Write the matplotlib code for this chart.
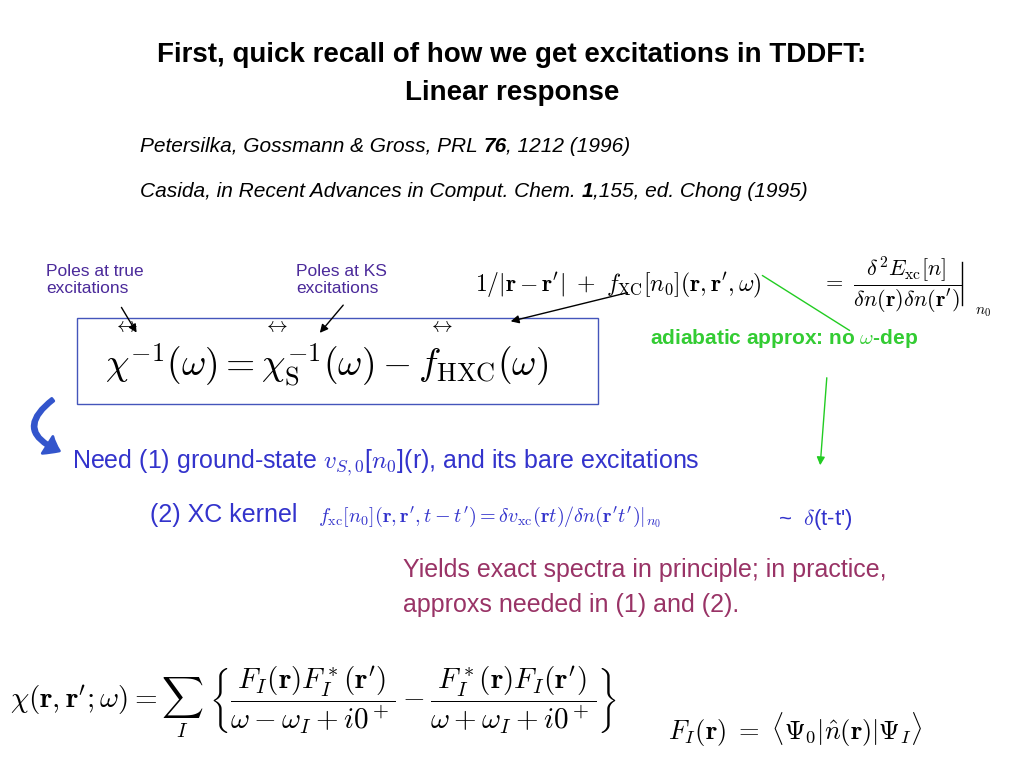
import matplotlib.pyplot as plt
from matplotlib.patches import Rectangle, FancyArrowPatch

plt.rcParams['mathtext.fontset'] = 'cm'
plt.rcParams['font.family'] = ['Liberation Sans', 'DejaVu Sans']

title_lines = ["First, quick recall of how we get excitations in TDDFT:", "Linear response"]
refs = [["Petersilka, Gossmann & Gross, PRL ", "76", ", 1212 (1996)"],
        ["Casida, in Recent Advances in Comput. Chem. ", "1", ",155, ed. Chong (1995)"]]
pole_labels = ["Poles at true\nexcitations", "Poles at KS\nexcitations"]
adiabatic = r"adiabatic approx: no $\omega$-dep"
need_line = r"Need (1) ground-state $v_{S,0}$[$n_0$](r), and its bare excitations"
kernel_label = "(2) XC kernel"
kernel_eq = r"$f_{\rm xc}[n_0](\mathbf{r},\mathbf{r}',t-t') = \delta v_{\rm xc}(\mathbf{r}t)/\delta n(\mathbf{r}'t')|_{n_0}$"
delta_note = r"~  $\delta$(t-t')"
yields = ["Yields exact spectra in principle; in practice,", "approxs needed in (1) and (2)."]

fig = plt.figure(figsize=(10.24, 7.68), dpi=100)
W, H = 1024, 768

def T(x, y, s, **kw):
    return fig.text(x / W, 1 - y / H, s, **kw)

def arrow(p0, p1, color='black', lw=1, style='-|>'):
    a = FancyArrowPatch((p0[0] / W, 1 - p0[1] / H), (p1[0] / W, 1 - p1[1] / H),
                        transform=fig.transFigure, arrowstyle=style,
                        mutation_scale=12, color=color, lw=lw)
    fig.patches.append(a)

for i, line in enumerate(title_lines):
    T(512, 55 + 38 * i, line, ha='center', va='center', fontsize=20, fontweight='bold')
for i, parts in enumerate(refs):
    prev = T(140, 152 + 45 * i, parts[0], ha='left', va='baseline', fontsize=15, style='italic')
    for j, p in enumerate(parts[1:]):
        prev = fig.text(0, 0, p, fontsize=15, style='italic', ha='left', va='baseline',
                        fontweight='bold' if j == 0 else 'normal',
                        transform=prev.get_transform() + 0 * 0 if False else None) if False else \
            plt.annotate(p, xy=(1, 0), xycoords=prev, ha='left', va='baseline', fontsize=15,
                         style='italic', fontweight='bold' if j == 0 else 'normal',
                         annotation_clip=False) if False else \
            fig.add_artist(plt.matplotlib.text.Annotation(
                p, xy=(1, 0), xycoords=prev, ha='left', va='bottom', fontsize=15,
                style='italic', fontweight='bold' if j == 0 else 'normal'))

pole_col = '#4b2a9a'
T(46, 280, pole_labels[0], ha='left', va='center', fontsize=12.5, color=pole_col)
T(296, 280, pole_labels[1], ha='left', va='center', fontsize=12.5, color=pole_col)

# boxed equation
fig.patches.append(Rectangle((77 / W, 1 - 404 / H), 521 / W, 86 / H,
                             transform=fig.transFigure, fill=False, ec='#4455bb', lw=1))
T(105, 365, r"$\chi^{-1}(\omega) = \chi_{\rm S}^{-1}(\omega) - f_{\rm HXC}(\omega)$",
  ha='left', va='center', fontsize=27)
for x in [126, 276, 441]:
    T(x, 326, r"$\leftrightarrow$", ha='center', va='center', fontsize=15)

T(475, 285, r"$1/|\mathbf{r}-\mathbf{r}'|\ +\ f_{\rm XC}[n_0](\mathbf{r},\mathbf{r}',\omega)$",
  ha='left', va='center', fontsize=17)
T(822, 285, r"$=\ \dfrac{\delta^2 E_{\rm xc}[n]}{\delta n(\mathbf{r})\delta n(\mathbf{r}')}$",
  ha='left', va='center', fontsize=16)
fig.add_artist(plt.Line2D([962 / W, 962 / W], [1 - 262 / H, 1 - 305 / H], color='black', lw=1))
T(975, 312, r"$n_0$", ha='left', va='center', fontsize=11)

arrow((120, 305), (138, 335))
arrow((345, 303), (318, 335))
arrow((630, 292), (508, 322))
arrow((760, 274), (852, 332), color='#22cc22', style='-')
arrow((827, 375), (820, 468), color='#22cc22')

T(650, 338, adiabatic, ha='left', va='center', fontsize=15, fontweight='bold', color='#33cc33')

a = FancyArrowPatch((55 / W, 1 - 398 / H), (62 / W, 1 - 452 / H), transform=fig.transFigure,
                    connectionstyle="arc3,rad=0.9", arrowstyle='simple,head_width=1.2,head_length=0.8',
                    mutation_scale=12, color='#3355cc', lw=2)
fig.patches.append(a)

blue = '#3333cc'
T(72, 463, need_line, ha='left', va='center', fontsize=18, color=blue)
T(150, 515, kernel_label, ha='left', va='center', fontsize=18, color=blue)
T(318, 517, kernel_eq, ha='left', va='center', fontsize=14.5, color=blue)
T(778, 519, delta_note, ha='left', va='center', fontsize=16, color=blue)

purple = '#993366'
for i, line in enumerate(yields):
    T(403, 570 + 35 * i, line, ha='left', va='center', fontsize=18, color=purple)

T(10, 702, r"$\chi(\mathbf{r},\mathbf{r}';\omega) = \sum_I\ \left\{\dfrac{F_I(\mathbf{r})F_I^*(\mathbf{r}')}{\omega-\omega_I+i0^+} - \dfrac{F_I^*(\mathbf{r})F_I(\mathbf{r}')}{\omega+\omega_I+i0^+}\right\}$",
  ha='left', va='center', fontsize=21)
T(668, 730, r"$F_I(\mathbf{r})\ =\ \langle\Psi_0|\hat{n}(\mathbf{r})|\Psi_I\rangle$",
  ha='left', va='center', fontsize=19)

fig.savefig('out.png', dpi=100)
